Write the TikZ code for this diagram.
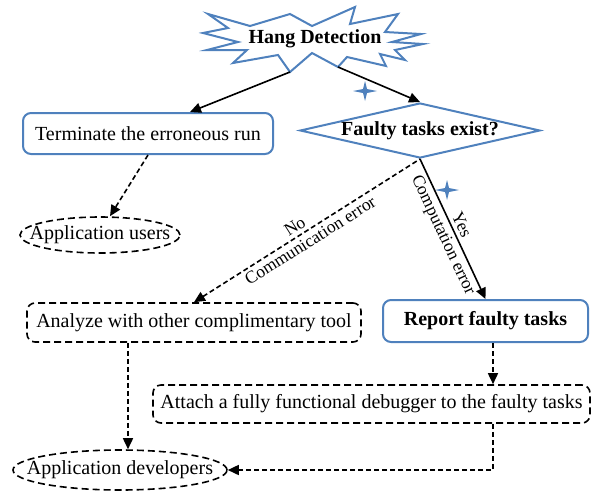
\documentclass[tikz,border=0pt]{standalone}
\usepackage{fontspec}
\setmainfont{Liberation Serif}
\usetikzlibrary{arrows.meta,shapes.geometric}
\definecolor{obl}{RGB}{79,129,189}
\tikzset{
  bluebox/.style={draw=obl,line width=2pt,rounded corners=8pt,fill=white,inner sep=0pt,font=\fontsize{20}{24}\selectfont},
  dashbox/.style={draw=black,line width=1.6pt,dash pattern=on 7pt off 4pt,rounded corners=8pt,inner sep=0pt,font=\fontsize{20}{24}\selectfont},
  dashell/.style={ellipse,draw=black,line width=1.6pt,dash pattern=on 7pt off 4pt,inner ysep=0pt,font=\fontsize{20}{24}\selectfont},
  solidarrow/.style={line width=1.6pt,-{Triangle[length=11pt,width=10pt]}},
  dasharrow/.style={line width=1.6pt,dash pattern=on 5pt off 3pt,-{Triangle[length=11pt,width=10pt]}},
  lbl/.style={font=\fontsize{17.5}{20}\selectfont,inner sep=3.5pt},
  sparkle/.style={fill=obl},
}
\begin{document}
\begin{tikzpicture}[x=1pt,y=-1pt]
\useasboundingbox (0,0) rectangle (596,491);
% starburst
\coordinate (sbl) at (290,72);
\coordinate (sbr) at (338,67);
\draw[draw=obl,line width=2pt,fill=white,line join=miter]
 (208,14) -- (250,26) -- (290,14) -- (312,26) -- (355,7) -- (350,24) -- (398,14) -- (385,32)
 -- (421,34) -- (392,42) -- (423,44) -- (395,50) -- (405,60) -- (380,54) -- (386,66) -- (347,57)
 -- (sbr) -- (312,53) -- (sbl) -- (278,55) -- (233,63) -- (247,50) -- (207,50) -- (238,42)
 -- (203,33) -- (228,28) -- cycle;
\node[font=\fontsize{20}{24}\selectfont\bfseries] (hang) at (315,39) {Hang Detection};
% boxes
\node[bluebox,minimum width=250pt,minimum height=41pt] (tr) at (148,133.5) {Terminate the erroneous run};
\node[diamond,aspect=4.36,draw=obl,line width=2pt,inner sep=0pt,minimum width=240pt,minimum height=55pt,
      font=\fontsize{20}{24}\selectfont\bfseries] (fd) at (420,130.5) {Faulty tasks exist?};
\node[dashell,inner xsep=-14pt,minimum width=160pt,minimum height=36pt] (us) at (100,235) {Application users};
\node[dashbox,minimum width=334pt,minimum height=39pt] (an) at (194,322.5) {Analyze with other complimentary tool};
\node[bluebox,minimum width=205pt,minimum height=42pt,font=\fontsize{20}{24}\selectfont\bfseries] (rp) at (485.5,321) {Report faulty tasks};
\node[dashbox,minimum width=437pt,minimum height=38pt] (at) at (371.5,404) {Attach a fully functional debugger to the faulty tasks};
\node[dashell,inner xsep=-18pt,minimum width=214pt,minimum height=40pt] (dv) at (120,470) {Application developers};
\coordinate (xr) at (493,0);
\coordinate (xa) at (128,0);
% sparkles
\foreach \cx/\cy in {365/91,447/190}{
  \fill[sparkle] (\cx-12,\cy) -- (\cx-2,\cy-2) -- (\cx,\cy-10) -- (\cx+2,\cy-2) -- (\cx+12,\cy)
    -- (\cx+2,\cy+2) -- (\cx,\cy+10) -- (\cx-2,\cy+2) -- cycle;
}
% connectors
\draw[solidarrow] (sbl) -- ([xshift=42pt]tr.north);
\draw[solidarrow] (sbr) -- (fd.north);
\draw[dasharrow] (tr.south) -- ([xshift=10pt]us.north);
\draw[dasharrow,{Triangle[length=11pt,width=10pt]}-] (an.north) --
  node[lbl,sloped,above,pos=0.47]{No}
  node[lbl,sloped,below,pos=0.49]{Communication error} (fd.south);
\draw[solidarrow] (fd.south) --
  node[lbl,sloped,above,pos=0.5]{Yes}
  node[lbl,sloped,below,pos=0.51]{Computation error} (rp.north);
\draw[dasharrow] (rp.south -| xr) -- (at.north -| xr);
\draw[dasharrow] (an.south -| xa) -- (dv.north -| xa);
\draw[dasharrow] (at.south -| xr) |- (dv.east);
\end{tikzpicture}
\end{document}
